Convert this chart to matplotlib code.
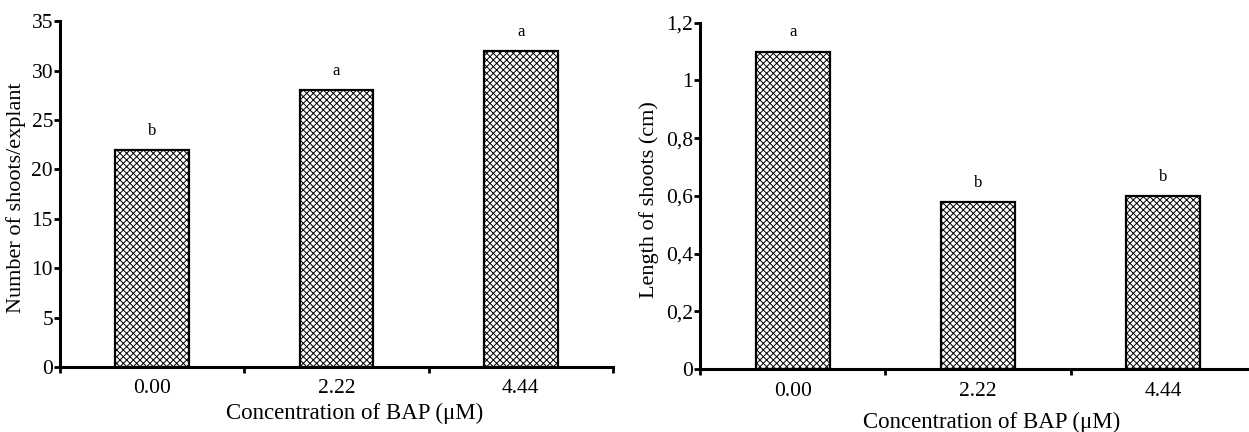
import matplotlib
matplotlib.use('Agg')
import matplotlib.pyplot as plt

# data
concentrations = ['0.00', '2.22', '4.44']
n_shoots = [22, 28, 32]
n_shoots_letters = ['b', 'a', 'a']
shoot_length = [1.1, 0.58, 0.6]
shoot_length_letters = ['a', 'b', 'b']

plt.rcParams['font.family'] = ['Liberation Serif', 'DejaVu Serif']
plt.rcParams['hatch.color'] = '#666666'
plt.rcParams['hatch.linewidth'] = 0.7


def draw_panel(ax, values, letters, ylim, yticks, yticklabels, ylabel, ylabel_x, xlabel_xy):
    pos = list(range(len(concentrations)))
    bars = ax.bar(pos, values, width=0.4, color='white', edgecolor='black',
                  linewidth=1.6, hatch='xxxxx', zorder=2)
    for bar, letter in zip(bars, letters):  # significance letters
        ax.annotate(letter, (bar.get_x() + bar.get_width() / 2, bar.get_height()),
                    xytext=(0, 8), textcoords='offset points', ha='center', va='bottom', fontsize=12)

    ax.set_xlim(-0.5, 2.5)
    ax.set_ylim(*ylim)
    ax.set_xticks([-0.5, 0.5, 1.5, 2.5])
    ax.set_xticklabels([])
    ax.set_xticks(pos, minor=True)
    ax.set_xticklabels(concentrations, minor=True, fontsize=15.5)
    ax.tick_params(axis='x', which='minor', length=0, pad=9)
    ax.tick_params(axis='x', which='major', length=4, width=2, direction='out')
    ax.set_yticks(yticks)
    ax.set_yticklabels(yticklabels, fontsize=15.5)
    ax.tick_params(axis='y', length=4, width=2, direction='out', pad=1)

    for side in ['top', 'right']:
        ax.spines[side].set_visible(False)
    for side in ['left', 'bottom']:
        ax.spines[side].set_linewidth(2.2)

    ax.set_ylabel(ylabel, fontsize=16)
    ax.yaxis.set_label_coords(ylabel_x, 0.49)
    ax.set_xlabel('Concentration of BAP (μM)', fontsize=16.5)
    ax.xaxis.set_label_coords(*xlabel_xy)


fig = plt.figure(figsize=(12.49, 4.32), dpi=100)
ax1 = fig.add_axes([0.048, 0.1505, 0.4428, 0.8005])
ax2 = fig.add_axes([0.5604, 0.1458, 0.4452, 0.8017])

draw_panel(ax1, n_shoots, n_shoots_letters, (0, 35), range(0, 36, 5),
           [str(v) for v in range(0, 36, 5)], 'Number of shoots/explant', -0.062, (0.533, -0.105))
y2 = [0, 0.2, 0.4, 0.6, 0.8, 1.0, 1.2]
draw_panel(ax2, shoot_length, shoot_length_letters, (0, 1.2), y2,
           ['0', '0,2', '0,4', '0,6', '0,8', '1', '1,2'], 'Length of shoots (cm)', -0.074, (0.525, -0.125))

plt.savefig('out.png', dpi=100)
plt.close(fig)
